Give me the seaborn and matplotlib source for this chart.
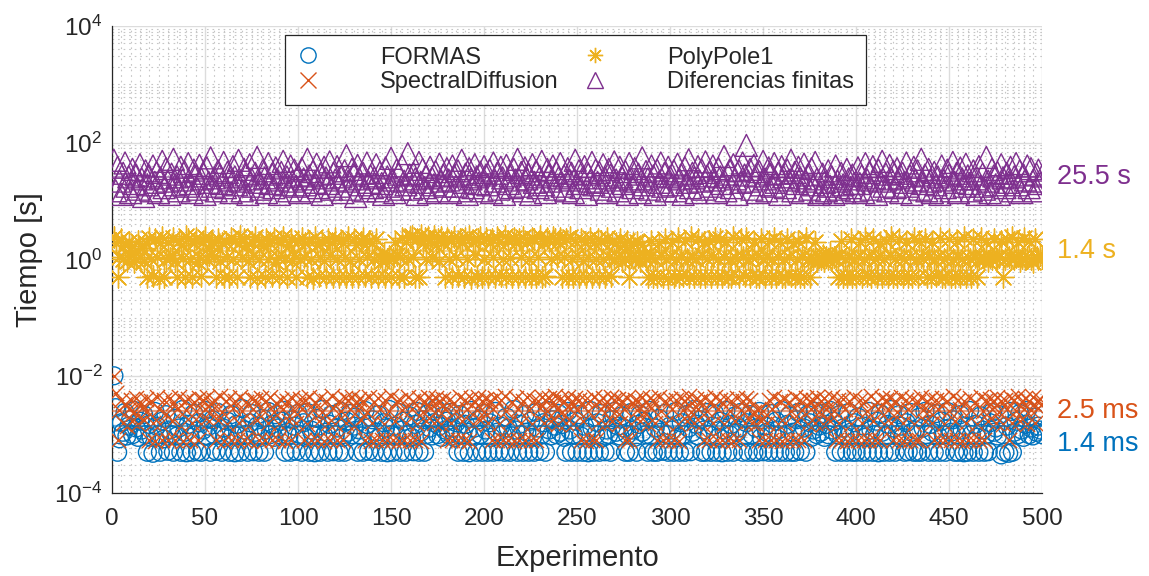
import numpy as np
import matplotlib
matplotlib.use("Agg")
import matplotlib.pyplot as plt
import matplotlib.ticker as mticker
from matplotlib.lines import Line2D
from matplotlib.transforms import blended_transform_factory
import seaborn as sns

# ---------------------------------------------------------------- data
# Computation time of each experiment (1..500) for every method.
formas_ms = [
    10.2, 2.9, 0.5, 0.85, 1.6, 1.1, 2.4, 0.95, 1.4, 1.8, 1.0, 2.6, 1.3, 0.9, 1.7, 1.2, 2.2, 1.0, 0.5, 1.5,
    0.9, 0.48, 2.5, 1.4, 1.0, 0.5, 1.7, 0.85, 2.2, 0.52, 1.2, 1.0, 0.5, 1.9, 0.95, 1.3, 0.5, 2.7, 1.1, 0.49,
    1.5, 0.9, 0.5, 2.3, 1.0, 0.51, 1.6, 0.5, 1.2, 2.6, 0.95, 1.4, 0.5, 1.8, 1.0, 0.52, 2.4, 1.1, 0.5, 1.3,
    0.9, 1.7, 0.5, 2.2, 1.0, 0.49, 1.5, 0.95, 0.5, 2.8, 1.2, 1.0, 0.5, 1.6, 2.3, 0.51, 1.1, 1.4, 0.5, 0.9,
    1.9, 0.5, 1.2, 2.5, 1.0, 1.5, 0.9, 2.2, 1.3, 1.0, 1.7, 2.6, 0.5, 1.1, 0.95, 0.5, 1.8, 1.4, 0.52, 2.3,
    1.0, 0.5, 1.6, 0.9, 2.4, 0.5, 1.2, 1.0, 0.49, 1.9, 1.4, 0.5, 2.7, 0.95, 1.1, 0.5, 1.5, 2.2, 0.51, 1.0,
    1.3, 0.5, 2.5, 0.9, 0.5, 1.7, 1.1, 2.3, 1.0, 1.4, 2.0, 0.5, 1.2, 0.95, 0.5, 2.6, 1.5, 0.52, 1.0, 1.8,
    0.5, 1.1, 2.2, 0.9, 0.5, 1.6, 1.3, 0.49, 2.7, 1.0, 0.5, 1.4, 0.95, 2.4, 0.5, 1.2, 1.7, 0.5, 1.0, 2.1,
    0.9, 0.51, 1.5, 2.5, 0.5, 1.1, 1.8, 0.5, 1.0, 2.3, 1.3, 0.95, 1.6, 2.8, 1.0, 1.4, 0.9, 2.1, 1.2, 1.7,
    1.0, 2.4, 1.3, 0.9, 1.6, 0.5, 2.2, 1.0, 0.5, 1.5, 1.1, 0.49, 2.6, 0.95, 1.3, 0.5, 1.8, 1.0, 0.5, 2.3,
    1.2, 0.5, 1.6, 0.9, 0.5, 2.5, 1.1, 0.51, 1.4, 1.0, 0.5, 2.0, 1.3, 0.5, 0.95, 2.7, 1.2, 0.5, 1.5, 1.0,
    0.5, 2.2, 1.1, 0.5, 1.7, 0.9, 0.5, 2.4, 1.3, 0.52, 1.0, 1.6, 0.5, 2.6, 1.2, 0.95, 1.8, 1.4, 1.0, 2.3,
    1.1, 1.5, 0.9, 0.5, 2.5, 1.2, 0.5, 1.0, 1.7, 0.5, 2.2, 0.95, 0.5, 1.4, 1.1, 0.49, 2.6, 1.3, 0.5, 1.0,
    1.6, 0.5, 2.3, 0.9, 0.51, 1.2, 1.0, 0.5, 1.8, 2.5, 1.1, 1.4, 0.95, 2.1, 1.3, 0.5, 1.0, 0.5, 2.4, 1.2,
    0.9, 0.5, 1.5, 2.2, 1.1, 1.7, 1.0, 0.5, 2.6, 0.95, 0.5, 1.3, 0.5, 1.9, 1.1, 0.52, 2.3, 1.0, 0.5, 1.4,
    1.2, 0.5, 2.5, 0.9, 0.5, 1.6, 1.0, 0.5, 2.2, 1.3, 0.51, 1.1, 2.7, 1.5, 0.95, 1.8, 0.5, 1.2, 0.5, 2.4,
    1.0, 0.5, 1.4, 2.3, 0.5, 0.9, 1.7, 0.49, 1.2, 2.6, 0.5, 1.0, 1.5, 0.5, 2.1, 1.1, 1.3, 2.4, 0.5, 0.95,
    1.6, 0.5, 2.2, 1.0, 0.5, 1.3, 0.5, 2.5, 0.9, 0.51, 1.4, 1.1, 0.5, 2.3, 1.0, 0.5, 1.7, 1.2, 0.5, 2.6,
    0.95, 0.5, 1.5, 2.1, 0.5, 1.1, 0.5, 1.8, 2.4, 0.52, 1.0, 1.3, 0.5, 2.2, 1.6, 0.9, 1.2, 2.5, 1.0, 1.4,
    1.1, 2.3, 0.9, 1.5, 1.0, 2.6, 1.2, 1.7, 0.5, 1.0, 2.2, 0.5, 1.3, 0.95, 0.5, 2.4, 1.1, 0.5, 1.6, 0.5,
    2.0, 1.0, 0.5, 1.4, 0.9, 0.5, 2.5, 1.2, 0.5, 1.0, 1.7, 0.49, 2.3, 1.1, 0.5, 0.95, 1.5, 0.5, 2.7, 1.3,
    0.5, 1.0, 2.2, 1.4, 0.9, 0.5, 1.6, 0.51, 2.4, 1.1, 0.5, 1.2, 0.5, 2.0, 0.5, 1.3, 2.5, 1.0, 0.5, 1.5,
    1.1, 0.5, 2.3, 0.95, 0.5, 1.7, 1.0, 0.5, 2.5, 1.3, 1.1, 1.8, 0.5, 1.0, 0.5, 2.2, 1.2, 0.49, 1.4, 0.5,
    2.6, 1.0, 0.5, 1.5, 0.9, 0.5, 2.1, 1.2, 0.5, 1.0, 0.51, 1.6, 2.4, 1.1, 1.3, 0.95, 2.2, 0.45, 1.0, 0.5,
    1.4, 0.48, 2.5, 0.5, 1.1, 1.7, 1.0, 2.3, 1.2, 0.9, 1.5, 2.6, 1.0, 1.3, 0.95, 2.0, 1.1, 1.4, 1.2, 1.0,
]

spectral_ms = [
    10.1, 5.2, 0.8, 2.6, 4.0, 1.6, 3.3, 1.4, 2.8, 3.9, 1.7, 2.4, 4.3, 1.5, 3.6, 2.9, 1.8, 4.1, 2.5, 0.8,
    3.8, 1.6, 0.78, 4.4, 2.7, 1.5, 0.8, 3.9, 2.3, 0.82, 4.2, 1.7, 3.5, 0.8, 2.8, 4.5, 1.4, 0.79, 3.7, 2.6,
    4.1, 0.8, 1.6, 3.6, 2.5, 0.81, 4.3, 1.5, 3.9, 2.8, 4.4, 1.7, 3.4, 2.6, 4.0, 0.8, 1.8, 4.6, 2.4, 0.79,
    3.7, 1.5, 4.2, 0.8, 2.9, 3.8, 0.82, 1.6, 4.4, 2.5, 0.8, 3.6, 1.4, 0.78, 4.1, 2.7, 3.9, 1.8, 0.8, 4.3,
    2.6, 0.8, 3.8, 1.6, 4.5, 0.81, 2.4, 3.5, 0.8, 1.5, 4.0, 2.8, 0.79, 3.7, 1.7, 0.8, 4.2, 2.5, 1.6, 3.4,
    4.1, 2.7, 0.8, 3.9, 1.5, 4.4, 0.82, 2.6, 3.6, 0.8, 1.7, 4.3, 2.4, 0.78, 3.8, 1.6, 0.8, 4.6, 2.9, 1.5,
    0.8, 3.7, 2.5, 0.81, 4.2, 1.6, 3.9, 2.8, 4.5, 1.4, 3.5, 2.6, 4.1, 1.8, 3.8, 0.8, 2.4, 4.4, 0.79, 1.6,
    3.6, 0.8, 4.3, 2.7, 0.82, 1.5, 3.9, 0.8, 2.5, 4.6, 0.8, 1.7, 3.7, 0.78, 4.0, 2.6, 0.8, 1.6, 4.4, 0.81,
    2.8, 3.8, 0.8, 1.5, 4.2, 0.79, 2.4, 3.6, 1.7, 4.5, 2.9, 3.9, 1.6, 4.3, 2.6, 3.7, 1.5, 4.1, 2.7, 0.8,
    4.0, 1.6, 0.8, 3.5, 2.5, 0.81, 4.4, 1.7, 0.8, 3.9, 2.8, 0.78, 4.2, 1.5, 3.6, 2.6, 4.5, 1.8, 3.8, 2.4,
    4.1, 1.6, 3.7, 0.8, 2.7, 4.3, 0.8, 1.5, 3.9, 0.82, 4.6, 2.5, 0.8, 1.7, 3.6, 0.79, 4.2, 2.8, 0.8, 1.6,
    3.8, 0.8, 4.4, 2.6, 0.81, 1.5, 4.0, 0.8, 3.7, 2.9, 4.5, 1.6, 3.9, 2.5, 4.2, 1.7, 3.6, 4.6, 2.7, 1.5,
    4.1, 2.4, 3.8, 1.6, 4.4, 2.8, 3.5, 1.5, 4.3, 2.6, 3.9, 0.8, 1.7, 4.0, 0.79, 2.5, 3.7, 0.8, 4.5, 0.82,
    1.6, 3.8, 2.7, 4.2, 1.5, 3.6, 2.9, 4.4, 1.7, 3.9, 2.5, 4.1, 1.6, 3.7, 2.8, 0.8, 4.3, 0.8, 1.5, 3.5,
    4.0, 2.6, 3.8, 1.7, 4.5, 2.4, 3.6, 1.5, 4.2, 2.9, 3.9, 1.6, 0.8, 4.4, 2.5, 0.81, 3.7, 1.6, 0.8, 4.1,
    2.7, 0.8, 3.9, 1.5, 0.79, 4.3, 2.6, 3.8, 1.7, 4.6, 2.4, 3.5, 1.6, 4.1, 2.8, 3.7, 1.5, 0.8, 4.2, 2.5,
    0.8, 3.6, 1.6, 4.4, 0.82, 2.7, 3.9, 0.8, 1.5, 4.1, 0.8, 2.5, 3.8, 0.79, 1.7, 4.3, 0.8, 2.6, 3.7, 1.6,
    4.2, 2.8, 3.9, 1.6, 2.4, 1.5, 2.6, 0.8, 1.7, 2.5, 0.81, 1.6, 4.0, 0.8, 2.7, 4.4, 0.8, 1.5, 3.8, 0.79,
    4.1, 1.6, 0.8, 3.6, 2.5, 0.8, 4.5, 1.7, 0.82, 3.9, 2.6, 0.8, 4.3, 1.5, 3.7, 2.8, 4.0, 1.6, 4.4, 2.4,
    3.8, 1.5, 4.2, 2.7, 3.6, 1.7, 4.5, 2.5, 0.8, 3.9, 1.6, 0.8, 4.1, 2.8, 0.79, 3.7, 1.5, 0.8, 4.4, 2.6,
    0.8, 4.0, 1.6, 0.81, 3.8, 2.5, 0.8, 4.6, 1.7, 0.8, 3.6, 2.7, 0.8, 4.2, 1.5, 3.9, 2.6, 4.3, 1.6, 0.8,
    3.7, 2.4, 0.8, 4.4, 1.6, 0.79, 3.9, 2.8, 0.8, 4.1, 1.5, 0.8, 3.6, 0.82, 4.5, 2.6, 1.7, 3.8, 2.5, 4.2,
    1.6, 0.8, 3.9, 2.7, 0.8, 4.3, 1.5, 0.81, 3.7, 2.5, 0.8, 4.6, 1.7, 0.8, 4.0, 2.8, 0.79, 3.8, 1.6, 0.8,
    4.2, 2.6, 0.8, 3.6, 1.5, 0.8, 4.4, 2.5, 0.82, 3.9, 1.7, 4.1, 2.8, 3.7, 1.6, 4.5, 2.4, 3.8, 1.5, 4.0,
    2.7, 0.8, 4.3, 1.6, 3.9, 2.5, 4.6, 1.7, 3.6, 2.8, 4.2, 1.5, 3.8, 2.6, 4.4, 1.6, 3.7, 2.9, 4.1, 3.3,
]

polypole_s = [
    2.4, 1.9, 0.5, 1.1, 2.2, 1.0, 1.8, 0.95, 2.0, 1.2, 1.7, 0.9, 1.0, 2.1, 1.1, 1.6, 0.95, 1.9, 0.5, 2.3,
    1.0, 0.52, 2.2, 1.1, 0.49, 1.9, 2.4, 0.5, 1.0, 2.0, 1.05, 1.2, 2.3, 0.95, 0.5, 2.1, 1.8, 1.05, 0.51, 2.5,
    2.2, 1.0, 0.5, 1.9, 2.3, 0.9, 1.1, 0.52, 2.0, 2.4, 1.0, 1.2, 1.8, 2.1, 1.15, 0.5, 2.2, 0.95, 1.9, 0.5,
    2.0, 1.1, 0.51, 2.3, 1.0, 2.1, 0.5, 1.9, 2.5, 1.1, 2.2, 1.8, 0.95, 0.5, 2.0, 1.2, 2.4, 0.49, 1.0, 2.1,
    1.7, 0.5, 2.2, 1.0, 1.9, 0.52, 2.3, 0.9, 1.1, 0.5, 2.0, 2.4, 1.05, 0.5, 1.8, 2.2, 0.95, 1.2, 0.51, 2.1,
    1.0, 2.3, 1.1, 1.9, 0.5, 2.1, 1.0, 0.49, 2.4, 1.8, 0.52, 1.1, 2.0, 0.95, 0.5, 2.2, 1.2, 1.9, 0.5, 2.3,
    1.0, 0.5, 2.1, 1.9, 1.1, 0.51, 2.4, 0.95, 0.5, 2.2, 1.8, 0.5, 1.0, 2.0, 2.3, 0.52, 1.1, 2.1, 0.5, 1.9,
    1.0, 2.2, 0.5, 1.1, 0.95, 1.3, 0.5, 1.0, 1.15, 0.51, 1.05, 2.0, 1.2, 0.5, 1.1, 2.3, 0.5, 2.0, 1.0, 2.4,
    2.5, 1.1, 0.5, 2.2, 0.5, 2.6, 1.9, 2.3, 1.0, 2.4, 2.1, 1.1, 2.5, 1.8, 2.2, 0.95, 2.4, 2.0, 0.5, 2.3,
    1.0, 2.1, 0.5, 2.4, 1.1, 0.52, 2.2, 1.9, 0.5, 2.3, 1.0, 2.5, 0.49, 2.0, 1.2, 0.5, 2.2, 2.4, 0.51, 1.0,
    2.3, 0.5, 1.9, 2.2, 1.1, 0.5, 2.4, 2.0, 0.52, 1.0, 2.5, 0.5, 2.1, 1.05, 0.5, 2.3, 1.9, 0.5, 2.2, 1.1,
    2.4, 0.51, 2.0, 1.0, 0.5, 2.3, 2.2, 0.5, 1.1, 2.5, 0.5, 1.9, 0.52, 2.3, 2.1, 1.0, 2.4, 2.2, 1.1, 2.0,
    2.3, 0.5, 1.1, 2.2, 0.51, 2.4, 1.0, 0.5, 2.1, 1.2, 0.5, 2.2, 0.95, 2.0, 0.5, 1.1, 2.3, 0.5, 1.9, 1.0,
    2.2, 0.5, 2.1, 1.0, 0.5, 2.3, 1.1, 0.52, 2.0, 1.0, 1.9, 1.1, 2.2, 0.95, 1.8, 1.0, 2.1, 0.5, 1.1, 1.9,
    1.0, 2.0, 1.1, 0.95, 1.8, 1.2, 1.0, 0.5, 1.1, 2.1, 0.51, 1.0, 0.5, 1.9, 1.2, 0.5, 2.2, 1.0, 0.49, 1.1,
    2.0, 0.5, 1.0, 2.3, 0.5, 1.1, 0.52, 2.1, 1.0, 0.5, 2.4, 1.1, 0.5, 1.0, 2.2, 0.5, 1.2, 2.0, 0.5, 1.0,
    2.1, 0.5, 1.1, 2.3, 0.51, 1.0, 2.2, 0.5, 1.1, 2.0, 0.5, 1.0, 0.5, 2.4, 1.1, 1.0, 0.5, 2.2, 1.1, 0.52,
    2.3, 1.0, 0.5, 1.1, 2.0, 0.5, 1.2, 0.51, 2.2, 1.0, 0.5, 1.1, 2.1, 0.5, 1.0, 2.3, 0.5, 1.1, 2.0, 0.5,
    1.0, 0.5, 2.2, 1.1, 0.52, 1.9, 0.5, 1.0, 2.1, 0.5, 1.1, 0.5, 2.3, 1.0, 0.5, 1.1, 1.0, 2.0, 0.95, 1.1,
    1.0, 1.2, 0.95, 1.1, 1.0, 1.3, 1.05, 1.1, 1.0, 0.5, 1.2, 2.1, 0.5, 1.0, 0.51, 1.1, 2.2, 0.5, 1.0, 0.5,
    1.1, 2.0, 0.5, 1.0, 2.3, 0.52, 1.1, 0.5, 2.2, 1.0, 0.5, 1.1, 1.9, 0.5, 1.0, 2.1, 0.5, 1.2, 2.4, 0.5,
    1.0, 0.5, 2.2, 1.1, 0.5, 1.0, 2.0, 0.51, 1.1, 0.5, 2.3, 1.0, 0.5, 2.1, 1.1, 1.0, 2.2, 0.5, 1.1, 0.5,
    2.0, 1.0, 0.52, 1.1, 2.3, 0.5, 1.0, 0.5, 1.1, 2.2, 0.5, 1.0, 0.51, 2.1, 1.1, 0.5, 1.0, 2.4, 0.5, 1.1,
    1.0, 0.5, 2.2, 1.1, 0.5, 1.0, 2.3, 1.1, 1.0, 2.0, 0.95, 1.1, 1.0, 2.2, 1.05, 1.0, 1.1, 2.1, 0.5, 1.0,
    2.2, 1.1, 1.0, 2.4, 1.0, 1.1, 2.0, 0.95, 1.05, 2.3, 1.0, 1.1, 2.1, 1.0, 0.9, 2.2, 1.1, 1.0, 1.2, 1.05,
]

finite_diff_s = [
    50, 15, 38, 22, 13, 30, 45, 18, 26, 14, 35, 20, 28, 16, 42, 24, 12, 33, 19, 27,
    15, 40, 21, 31, 14, 25, 48, 17, 36, 22, 13, 29, 52, 19, 26, 15, 38, 23, 32, 18,
    44, 20, 14, 34, 27, 16, 41, 24, 30, 13, 37, 21, 55, 18, 25, 15, 33, 28, 20, 46,
    17, 31, 23, 14, 39, 26, 19, 50, 22, 15, 35, 28, 13, 42, 24, 18, 30, 56, 21, 16,
    33, 25, 14, 44, 20, 29, 17, 37, 23, 13, 31, 48, 19, 26, 15, 40, 22, 34, 18, 28,
    14, 36, 24, 19, 52, 27, 15, 32, 21, 43, 17, 29, 13, 38, 25, 20, 47, 16, 30, 23,
    39, 18, 26, 14, 33, 60, 22, 16, 35, 28, 12, 41, 24, 19, 30, 15, 45, 21, 27, 17,
    25, 42, 15, 31, 20, 13, 37, 26, 18, 54, 23, 14, 34, 29, 16, 40, 22, 19, 65, 28,
    16, 30, 24, 13, 46, 21, 35, 17, 27, 14, 38, 25, 19, 32, 15, 43, 22, 28, 18, 36,
    23, 14, 40, 27, 18, 33, 15, 50, 21, 29, 13, 36, 24, 17, 42, 26, 20, 31, 15, 39,
    28, 19, 34, 14, 45, 22, 30, 16, 38, 25, 13, 41, 20, 27, 17, 35, 23, 52, 18, 31,
    15, 37, 24, 29, 13, 42, 21, 33, 17, 26, 48, 19, 14, 35, 28, 22, 40, 16, 31, 25,
    44, 18, 27, 15, 36, 23, 30, 14, 50, 20, 33, 17, 25, 39, 13, 29, 22, 46, 19, 34,
    21, 31, 16, 42, 25, 14, 35, 28, 18, 47, 23, 15, 38, 26, 20, 32, 13, 44, 24, 17,
    36, 22, 29, 14, 55, 19, 32, 24, 16, 40, 27, 13, 34, 21, 45, 18, 30, 15, 38, 26,
    19, 33, 15, 43, 24, 28, 13, 37, 21, 51, 17, 30, 25, 14, 39, 22, 34, 16, 47, 27,
    31, 18, 40, 23, 14, 36, 26, 20, 58, 15, 29, 34, 17, 42, 24, 13, 33, 21, 45, 28,
    90, 22, 35, 16, 41, 27, 14, 32, 19, 48, 24, 15, 37, 29, 18, 44, 21, 30, 13, 39,
    26, 17, 34, 23, 50, 15, 31, 20, 38, 25, 14, 43, 22, 28, 16, 36, 19, 46, 24, 13,
    14, 29, 21, 15, 33, 18, 26, 13, 40, 22, 16, 30, 19, 14, 35, 24, 17, 28, 20, 15,
    37, 20, 27, 14, 44, 23, 31, 16, 39, 25, 13, 34, 22, 48, 18, 29, 15, 41, 24, 32,
    17, 36, 25, 14, 30, 21, 45, 18, 27, 13, 38, 23, 33, 16, 52, 20, 28, 15, 35, 22,
    14, 31, 19, 26, 13, 40, 23, 17, 34, 28, 15, 46, 21, 30, 14, 37, 24, 18, 43, 27,
    20, 15, 33, 24, 13, 39, 18, 29, 16, 56, 22, 14, 35, 27, 19, 31, 13, 42, 25, 17,
    30, 21, 38, 15, 26, 44, 19, 33, 14, 28, 23, 40, 17, 36, 22, 15, 29, 34, 20, 27,
]

method_names = ["FORMAS", "SpectralDiffusion", "PolyPole1", "Diferencias finitas"]
# Mean time of each method [s]
mean_times = [1.4e-3, 2.5e-3, 1.4, 25.5]

experiments = np.arange(1, len(formas_ms) + 1)
series = [
    np.array(formas_ms) * 1e-3,
    np.array(spectral_ms) * 1e-3,
    np.array(polypole_s),
    np.array(finite_diff_s),
]

# ---------------------------------------------------------------- style
colors = ["#0072BD", "#D95319", "#EDB120", "#7E2F8E"]
markers = ["o", "x", (8, 2, 0), "^"]
marker_area = [165, 120, 230, 250]
hollow = [True, False, False, True]

sns.set_style("white")
plt.rcParams["font.family"] = ["Liberation Sans", "DejaVu Sans"]
plt.rcParams["mathtext.default"] = "regular"
plt.rcParams["axes.edgecolor"] = "#262626"
plt.rcParams["xtick.color"] = "#262626"
plt.rcParams["ytick.color"] = "#262626"

fig = plt.figure(figsize=(11.49, 5.76), dpi=100)
ax = fig.add_axes([0.0975, 0.144, 0.8095, 0.811])

for vals, col, mk, area, open_mk in zip(series, colors, markers, marker_area, hollow):
    kw = dict(x=experiments, y=vals, ax=ax, marker=mk, s=area, linewidth=1.0, zorder=3)
    if open_mk:
        sns.scatterplot(color=col, facecolor="none", edgecolor=col, **kw)
    else:
        sns.scatterplot(color=col, **kw)

# mean line of every method with its value at the right of the axes
trans = blended_transform_factory(ax.transAxes, ax.transData)
label_shift = [-13, 0, 0, 0]
for m, col, dy in zip(mean_times, colors, label_shift):
    ax.axhline(m, color=col, lw=1.6, alpha=0.55, zorder=4)
    txt = f"{m * 1e3:.1f} ms" if m < 1 else f"{m:.1f} s"
    ax.annotate(txt, xy=(1.0, m), xycoords=trans, xytext=(11, dy),
                textcoords="offset points", color=col, fontsize=19.5,
                va="center", ha="left", annotation_clip=False)

ax.set_yscale("log")
ax.set_xlim(0, 500)
ax.set_ylim(1e-4, 1e4)

ax.xaxis.set_major_locator(mticker.MultipleLocator(50))
ax.xaxis.set_minor_locator(mticker.MultipleLocator(5))
major_y = [1e-4, 1e-2, 1e0, 1e2, 1e4]
ax.yaxis.set_major_locator(mticker.FixedLocator(major_y))
ax.yaxis.set_major_formatter(mticker.FixedFormatter(
    ["$10^{-4}$", "$10^{-2}$", "$10^{0}$", "$10^{2}$", "$10^{4}$"]))
minor_y = [m * 10.0 ** k for k in range(-4, 4) for m in range(1, 10)
           if not (m == 1 and k % 2 == 0)]
ax.yaxis.set_minor_locator(mticker.FixedLocator(minor_y))
ax.yaxis.set_minor_formatter(mticker.NullFormatter())

ax.grid(True, which="major", color="#dcdcdc", lw=1.0, ls="-", zorder=0)
ax.grid(True, which="minor", color="#c6c6c6", lw=0.8, ls=(0, (1.5, 3.5)), zorder=0)
ax.set_axisbelow(True)

ax.tick_params(axis="both", which="major", direction="in", length=5, width=0.8,
               labelsize=17.5)
ax.tick_params(axis="x", which="major", pad=11)
ax.tick_params(axis="y", which="major", pad=7)
ax.tick_params(axis="y", which="minor", direction="in", length=3, width=0.7)
ax.tick_params(axis="x", which="minor", length=0)

for side in ["top", "right"]:
    ax.spines[side].set_visible(False)
for side in ["left", "bottom"]:
    ax.spines[side].set_linewidth(0.9)

ax.set_xlabel("Experimento", fontsize=21, labelpad=10)
ax.set_ylabel("Tiempo [s]", fontsize=21, labelpad=8)

handles = []
for name, col, mk, open_mk in zip(method_names, colors, markers, hollow):
    handles.append(Line2D([], [], ls="none", marker=mk, markersize=11,
                          markerfacecolor="none" if open_mk else col,
                          markeredgecolor=col, markeredgewidth=1.0, label=name))
leg = ax.legend(handles=handles, ncol=2, loc="upper center",
                bbox_to_anchor=(0.4985, 0.981), fontsize=17, frameon=True,
                fancybox=False, edgecolor="#262626", framealpha=1,
                handlelength=0.9, handletextpad=2.6, columnspacing=1.1,
                borderpad=0.5, labelspacing=0.12, borderaxespad=0)
leg.get_frame().set_linewidth(0.9)

fig.savefig("out.png", dpi=100)
